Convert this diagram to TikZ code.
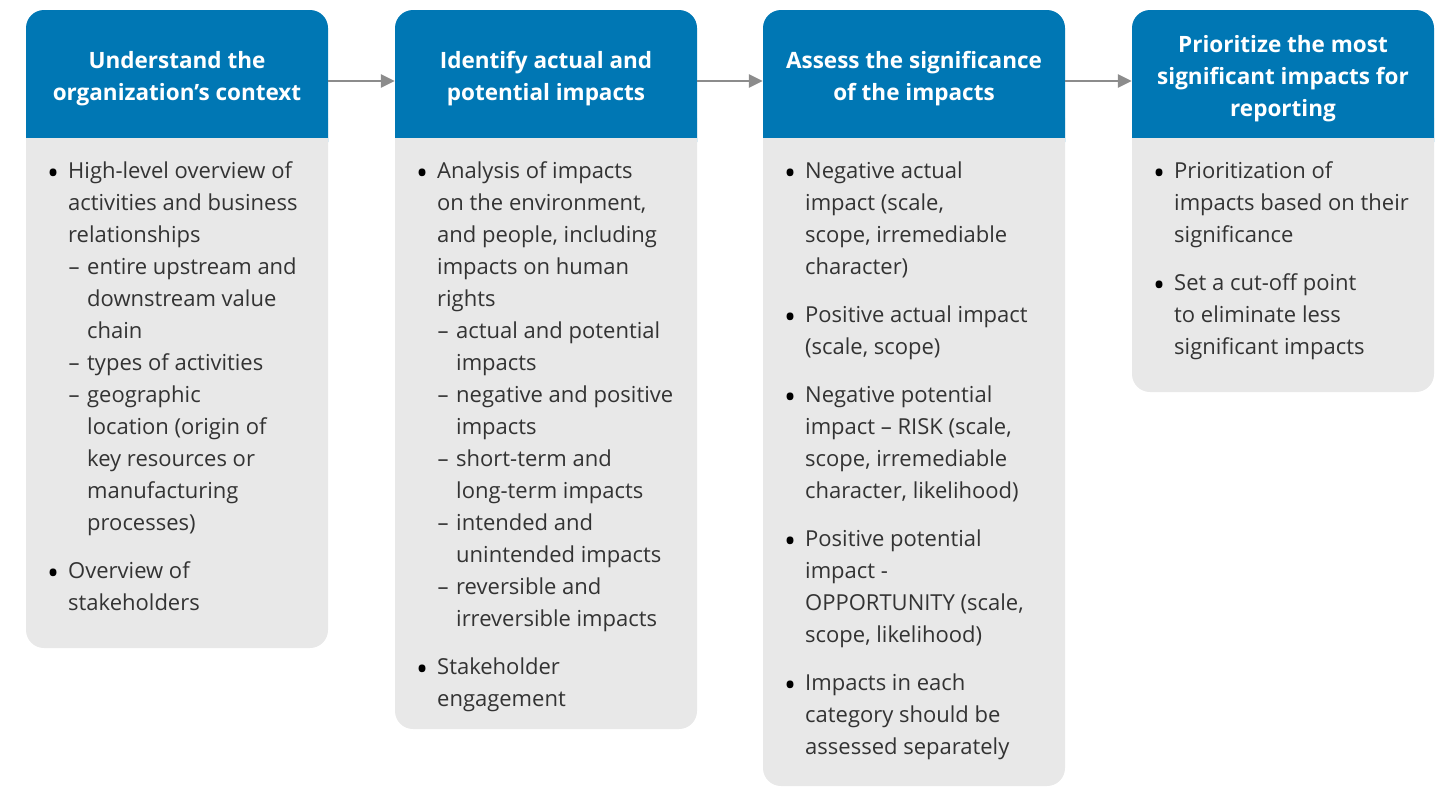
\documentclass[tikz,border=0pt]{standalone}
\usepackage{fontspec}
\setmainfont{Open Sans}
\usetikzlibrary{arrows.meta}
\definecolor{hblue}{HTML}{0077B4}
\definecolor{bgray}{HTML}{E8E8E8}
\definecolor{tgray}{HTML}{333333}
\definecolor{agray}{HTML}{8C8C8C}
\newcommand\bul{\llap{\makebox[30pt]{\raisebox{-6pt}[0pt][0pt]{\color{black}\fontsize{32}{32}\selectfont\textbullet}}}}
\newcommand\subi{\hspace*{19pt}\llap{\makebox[26pt]{–}}}
\newcommand\cont{\hspace*{19pt}}
\tikzset{
  header/.style={minimum width=302pt, minimum height=128pt, inner sep=0pt, text=white, align=center, font=\fontsize{22.5}{32}\selectfont\bfseries},
  body/.style={anchor=north west, inner sep=0pt, align=left, text=tgray, font=\fontsize{22}{32}\selectfont},
  flow/.style={draw=agray, line width=2.5pt, -{Triangle[length=14pt,width=13pt]}},
}
\newcommand\column[2]{%
  \fill[bgray, rounded corners=18pt] (#1,100) rectangle (#1+302,#2);
  \fill[hblue, rounded corners=18pt] (#1,10) rectangle (#1+302,160);
  \fill[bgray] (#1,138) rectangle (#1+302,170);
}
\begin{document}
\begin{tikzpicture}[x=1pt,y=-1pt]
\useasboundingbox (0,0) rectangle (1445,787);
\column{26}{648}
\column{395}{729}
\column{763}{786}
\column{1132}{392}

\node[header] (h1) at (177,79) {Understand the\\organization’s context};
\node[header] (h2) at (546,79) {Identify actual and\\potential impacts};
\node[header] (h3) at (914,79) {Assess the significance\\of the impacts};
\node[header] (h4) at (1283,79) {Prioritize the most\\significant impacts for\\reporting};

\draw[flow] ([yshift=-2pt]h1.east) -- ([yshift=-2pt]h2.west);
\draw[flow] ([yshift=-2pt]h2.east) -- ([yshift=-2pt]h3.west);
\draw[flow] ([yshift=-2pt]h3.east) -- ([yshift=-2pt]h4.west);

\node[body] (b1) at (68,155.6) {\bul\strut High-level overview of\\
activities and business\\
relationships\\
\subi entire upstream and\\
\cont downstream value\\
\cont chain\\
\subi types of activities\\
\subi geographic\\
\cont location (origin of\\
\cont key resources or\\
\cont manufacturing\\
\cont processes)\\[16pt]
\bul Overview of\\
stakeholders};

\node[body] (b2) at (437,155.6) {\bul\strut Analysis of impacts\\
on the environment,\\
and people, including\\
impacts on human\\
rights\\
\subi actual and potential\\
\cont impacts\\
\subi negative and positive\\
\cont impacts\\
\subi short-term and\\
\cont long-term impacts\\
\subi intended and\\
\cont unintended impacts\\
\subi reversible and\\
\cont irreversible impacts\\[16pt]
\bul Stakeholder\\
engagement};

\node[body] (b3) at (805,155.6) {\bul\strut Negative actual\\
impact (scale,\\
scope, irremediable\\
character)\\[16pt]
\bul Positive actual impact\\
(scale, scope)\\[16pt]
\bul Negative potential\\
impact – RISK (scale,\\
scope, irremediable\\
character, likelihood)\\[16pt]
\bul Positive potential\\
impact -\\
OPPORTUNITY (scale,\\
scope, likelihood)\\[16pt]
\bul Impacts in each\\
category should be\\
assessed separately};

\node[body] (b4) at (1174,155.6) {\bul\strut Prioritization of\\
impacts based on their\\
significance\\[16pt]
\bul Set a cut-off point\\
to eliminate less\\
significant impacts};
\end{tikzpicture}
\end{document}
